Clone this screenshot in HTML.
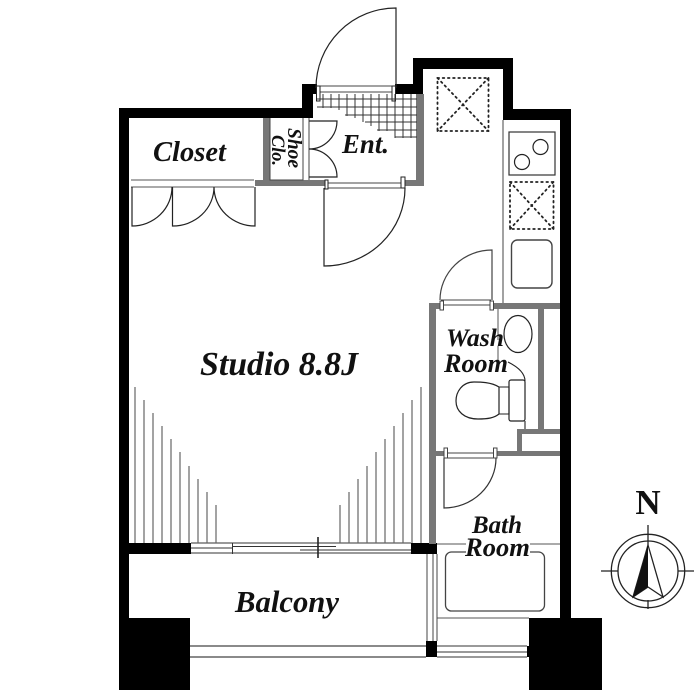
<!DOCTYPE html>
<html><head><meta charset="utf-8"><style>
html,body{margin:0;padding:0;background:#fff;width:700px;height:700px;overflow:hidden}
svg{display:block;filter:blur(0.3px)}
text{font-family:"Liberation Serif",serif;font-weight:bold;font-style:italic;fill:#111}
</style></head><body>
<svg width="700" height="700" viewBox="0 0 700 700" xmlns="http://www.w3.org/2000/svg">
<rect width="700" height="700" fill="#fff"/>
<!-- outer black walls -->
<g fill="#000">
<rect x="119" y="108" width="194" height="10"/>
<rect x="119" y="108" width="10" height="520"/>
<rect x="302" y="84" width="11" height="34"/>
<rect x="302" y="84" width="15" height="10"/>
<rect x="395" y="84" width="28" height="10"/>
<rect x="413" y="58" width="10" height="36"/>
<rect x="413" y="58" width="100" height="11"/>
<rect x="503" y="58" width="10" height="62"/>
<rect x="503" y="109" width="68" height="11"/>
<rect x="560" y="109" width="11" height="515"/>
<rect x="119" y="618" width="71" height="72"/>
<rect x="529" y="618" width="73" height="72"/>
<rect x="129" y="543" width="62" height="11"/>
<rect x="411" y="543" width="26" height="11"/>
<rect x="426" y="641" width="11" height="16"/>
<rect x="527" y="646" width="3" height="11"/>
</g>
<!-- gray walls -->
<g fill="#777">
<rect x="416" y="94" width="8" height="92"/>
<rect x="401" y="180" width="23" height="6"/>
<rect x="255" y="180" width="71" height="6"/>
<rect x="263" y="118" width="7" height="64"/>
<rect x="429" y="303" width="7" height="241"/>
<rect x="429" y="303" width="12" height="6"/>
<rect x="490" y="303" width="70" height="6"/>
<rect x="538" y="309" width="6" height="120"/>
<rect x="517" y="429" width="43" height="5"/>
<rect x="517" y="429" width="5" height="24"/>
<rect x="429" y="451" width="16" height="5"/>
<rect x="495" y="451" width="65" height="5"/>
</g>
<g fill="none" stroke="#222" stroke-width="1">
<!-- shoe cabinet -->
<path d="M270 118V180H303V118M303 118V180M309 118V180" stroke="#444"/>
<!-- closet rail -->
<path d="M131 180H254M131 187H254" stroke="#555"/>
<path d="M132 187V226A40 39 0 0 0 172 187M172.500 187V226A41 39 0 0 0 214 187A41 39 0 0 0 255 226V187" stroke-width="1.200"/>
<!-- shoe doors -->
<path d="M309 121H337A28 28 0 0 1 309 149A28 28 0 0 1 337 177H309" stroke-width="1.200"/>
<!-- entrance door -->
<path d="M396 88V8A80 80 0 0 0 316 88" stroke-width="1.200"/>
<path d="M320 86H392M320 92H392" stroke="#444"/>
<rect x="316.500" y="86" width="3.500" height="15" fill="#fff"/>
<rect x="392" y="86" width="3.500" height="15" fill="#fff"/>
<!-- lower door -->
<path d="M324 188V266A81 78 0 0 0 405 188" stroke-width="1.200"/>
<path d="M326 183H401M326 188H401" stroke="#444"/>
<rect x="325" y="180" width="3" height="9" fill="#fff"/>
<rect x="401" y="177" width="4" height="11" fill="#fff"/>
<!-- kitchen -->
<path d="M503 120V303" stroke="#444"/>
<rect x="509" y="132" width="46" height="43" stroke="#333" stroke-width="1.200"/>
<circle cx="540.500" cy="147" r="7.500" stroke-width="1.200"/>
<circle cx="522" cy="162" r="7.500" stroke-width="1.200"/>
<rect x="511.500" y="240" width="40.500" height="48" rx="6" stroke="#444" stroke-width="1.400"/>
<!-- wash door -->
<path d="M492 300V250A52 50 0 0 0 440 300" stroke="#444" stroke-width="1.200"/>
<path d="M441 300H491M441 305H491" stroke="#444"/>
<rect x="440" y="301" width="3.500" height="9" fill="#fff" stroke="#444"/>
<rect x="490" y="301" width="3.500" height="9" fill="#fff" stroke="#444"/>
<!-- bath door -->
<path d="M444 458V508A52 50 0 0 0 496 458" stroke="#333" stroke-width="1.200"/>
<path d="M446 453H495M446 458H495" stroke="#444"/>
<rect x="444" y="448" width="3.500" height="10" fill="#fff" stroke="#444"/>
<rect x="493.500" y="448" width="3.500" height="10" fill="#fff" stroke="#444"/>
<!-- fixtures -->
<path d="M498 309V340M498 346V360" stroke="#555"/>
<ellipse cx="518" cy="334" rx="14" ry="18.500" stroke-width="1.200"/>
<path d="M508 362C516 366 525 372 525 381M525 421V429" stroke-width="1.100"/>
<path d="M499 387C491 382 480 382 474 382C462 382 456 392 456 401C456 411 464 419 478 419C488 419 494 418 499 414Z" stroke-width="1.200"/>
<path d="M499 387H509V414H499" stroke-width="1.100"/>
<rect x="509" y="380" width="16" height="41" rx="2" stroke-width="1.200"/>
<!-- bath -->
<path d="M437 544H560M437 618H529" stroke="#555"/>
<rect x="445.500" y="552" width="99" height="59" rx="6" stroke="#444" stroke-width="1.300"/>
<!-- rails -->
<path d="M427 554V641M433 554V641M437 554V641" stroke="#444"/>
<path d="M437 646H527M437 652H527M437 657H527" stroke="#333"/>
<path d="M190 646H426M190 657H426" stroke="#444" stroke-width="1.300"/>
<!-- studio window -->
<path d="M191 543H411M191 553H411M191 548H232M232.500 543V554M232 546.500H336M300 550H411" stroke="#333"/>
<path d="M318 537V558" stroke="#222" stroke-width="1.600"/>
</g>
<!-- hatching -->
<path d="M135 387V543M144 400V543M153 413V543M162 426V543M171 439V543M180 452V543M189 466V543M198 479V543M207 492V543M216 505V543M421 387V543M412 400V543M403 413V543M394 426V543M385 439V543M376 452V543M367 466V543M358 479V543M349 492V543M340 505V543" stroke="#666" stroke-width="1.200" fill="none"/>
<!-- tile -->
<path d="M323 94V108M331 94V108M339 94V110M347 94V116M355 94V118M363 94V122M371 94V126M379 94V131M387 94V131M395 94V138M403 94V138M411 94V138M317 99H417M317 107H417M345 115H417M365 122H417M377 130H417M395 137H417" stroke="#333" stroke-width="1" fill="none"/>
<!-- dotted -->
<g fill="none" stroke="#222" stroke-width="1.800" stroke-dasharray="1.600 3.600" stroke-linecap="round">
<rect x="437.500" y="78" width="51" height="53"/>
<path d="M437.500 78L488.500 131M488.500 78L437.500 131"/>
<rect x="510" y="182" width="43.500" height="47"/>
<path d="M510 182L553.500 229M553.500 182L510 229"/>
</g>
<!-- labels -->
<rect x="466" y="540" width="64" height="18" fill="#fff"/>
<text x="153" y="161" font-size="28.500" textLength="73" lengthAdjust="spacingAndGlyphs">Closet</text>
<text x="342" y="153" font-size="27" textLength="47" lengthAdjust="spacingAndGlyphs">Ent.</text>
<text x="200" y="375" font-size="34" textLength="158" lengthAdjust="spacingAndGlyphs">Studio 8.8J</text>
<text x="235" y="612" font-size="30.500" textLength="104" lengthAdjust="spacingAndGlyphs">Balcony</text>
<text x="446" y="346" font-size="25" textLength="58" lengthAdjust="spacingAndGlyphs">Wash</text>
<text x="444" y="372" font-size="26" textLength="64" lengthAdjust="spacingAndGlyphs">Room</text>
<text x="472" y="533" font-size="25" textLength="50" lengthAdjust="spacingAndGlyphs">Bath</text>
<text x="465" y="556" font-size="26" textLength="65" lengthAdjust="spacingAndGlyphs">Room</text>
<text transform="translate(288 128) rotate(90)" font-size="19.500" textLength="40" lengthAdjust="spacingAndGlyphs">Shoe</text>
<text transform="translate(272 135) rotate(90)" font-size="18.500" textLength="31" lengthAdjust="spacingAndGlyphs">Clo.</text>
<!-- compass -->
<text x="648" y="514" font-size="35" text-anchor="middle" style="font-style:normal">N</text>
<g fill="none" stroke="#222" stroke-width="1.300">
<circle cx="648" cy="571" r="36.700"/>
<circle cx="648" cy="571" r="30"/>
<path d="M601 571H618M678 571H694M648 525V545M648 600V609"/>
<path d="M648 545L663 597L648 587L633 597Z"/>
</g>
<path d="M648 545L648 587L633 597Z" fill="#111"/>
</svg>
</body></html>
